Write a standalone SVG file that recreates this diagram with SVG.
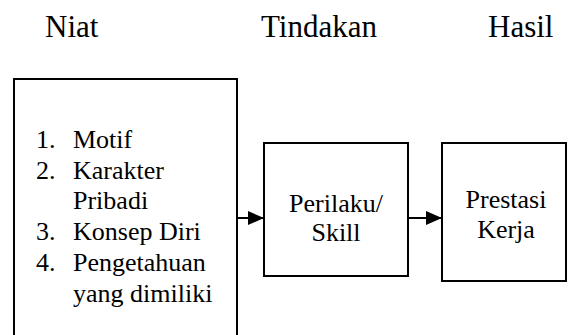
<svg xmlns="http://www.w3.org/2000/svg" width="573" height="335" viewBox="0 0 573 335">
<defs>
<style>
text{font-family:"Liberation Serif","Times New Roman",serif;fill:#000}
.h{font-size:31px}
.t{font-size:26px}
.c{text-anchor:middle}
.box{fill:#fff;stroke:#000;stroke-width:2}
.conn{stroke:#000;stroke-width:2;fill:none}
</style>
<marker id="arr" markerWidth="16" markerHeight="14" refX="16" refY="7" orient="auto" markerUnits="userSpaceOnUse">
<path d="M0,0 L16,7 L0,14 Z" fill="#000"/>
</marker>
</defs>
<rect width="573" height="335" fill="#fff"/>
<g id="headings">
<text class="h" x="45" y="37">Niat</text>
<text class="h" x="261" y="37">Tindakan</text>
<text class="h" x="488" y="37">Hasil</text>
</g>
<g id="niat">
<rect class="box" x="14" y="79" width="223" height="270"/>
<text class="t" x="36" y="148">1.</text><text class="t" x="73" y="148">Motif</text>
<text class="t" x="36" y="178.7">2.</text><text class="t" x="73" y="178.7">Karakter</text>
<text class="t" x="73" y="209.4">Pribadi</text>
<text class="t" x="36" y="240.1">3.</text><text class="t" x="73" y="240.1">Konsep Diri</text>
<text class="t" x="36" y="270.8">4.</text><text class="t" x="73" y="270.8">Pengetahuan</text>
<text class="t" x="73" y="301.5">yang dimiliki</text>
</g>
<g id="tindakan">
<rect class="box" x="264" y="143" width="144" height="133"/>
<text class="t c" x="336" y="212">Perilaku/</text>
<text class="t c" x="336" y="241">Skill</text>
</g>
<g id="hasil">
<rect class="box" x="442" y="143" width="124" height="138"/>
<text class="t c" x="506" y="208">Prestasi</text>
<text class="t c" x="506" y="238">Kerja</text>
</g>
<g id="connectors">
<line class="conn" x1="237" y1="218" x2="264" y2="218" marker-end="url(#arr)"/>
<line class="conn" x1="408" y1="218" x2="442" y2="218" marker-end="url(#arr)"/>
</g>
</svg>
